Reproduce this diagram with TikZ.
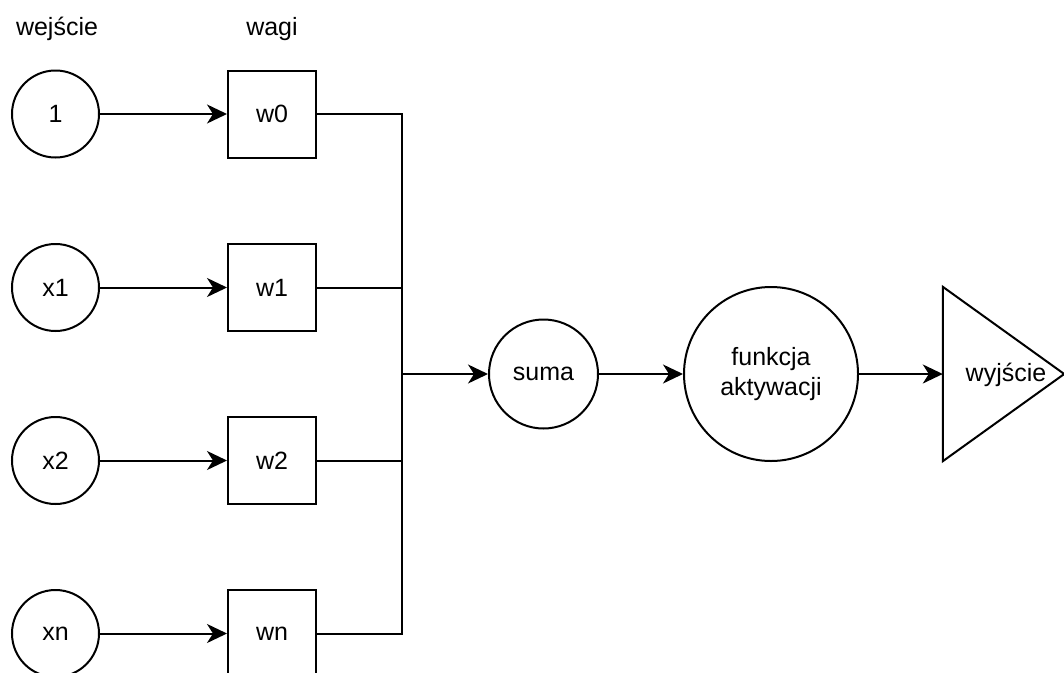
\documentclass[tikz,border=0pt]{standalone}
\usepackage{fontspec}
\setmainfont{Liberation Sans}
\usetikzlibrary{arrows.meta}

\tikzset{
  base/.style={draw=black, line width=2pt, inner sep=0pt, font=\fontsize{25}{30}\selectfont, text=black, align=center},
  inputnode/.style={base, circle, minimum size=87pt},
  weightbox/.style={base, rectangle, minimum width=88pt, minimum height=87pt},
  plain/.style={inner sep=0pt, font=\fontsize{25}{30}\selectfont, text=black, align=center},
  link/.style={line width=2pt, draw=black},
  arrowlink/.style={link, -{Stealth[length=20pt, width=19pt, inset=6pt]}}
}

\begin{document}
\begin{tikzpicture}[x=1pt, y=-1pt]
  \useasboundingbox (0,0) rectangle (1064,672);

  % column headings
  \node[plain] (hin) at (57,29) {wejście};
  \node[plain] (hw)  at (272,29) {wagi};

  % inputs
  \node[inputnode] (i0) at (55.5,114) {1};
  \node[inputnode] (i1) at (55.5,287.5) {x1};
  \node[inputnode] (i2) at (55.5,460.5) {x2};
  \node[inputnode] (in) at (55.5,633.5) {xn};

  % weights
  \node[weightbox] (w0) at (272,114) {w0};
  \node[weightbox] (w1) at (272,287.5) {w1};
  \node[weightbox] (w2) at (272,460.5) {w2};
  \node[weightbox] (wn) at (272,633.5) {wn};

  % summation and activation
  \node[base, circle, minimum size=109pt] (sum) at (543.5,374) {suma};
  \node[base, circle, minimum size=174pt] (act) at (771,374) {funkcja\\aktywacji};

  % output triangle: an invisible frame carries the text and the anchors
  \node[plain, minimum width=121pt, minimum height=174pt] (out) at (1003.5,374) {};
  \draw[link, line join=miter] (out.north west) -- (out.east) -- (out.south west) -- cycle;
  \node[plain] (outtext) at (1006,375) {wyjście};

  % junction on the bus
  \coordinate (bus) at (402,374);

  % input to weight
  \draw[arrowlink] (i0) -- (w0);
  \draw[arrowlink] (i1) -- (w1);
  \draw[arrowlink] (i2) -- (w2);
  \draw[arrowlink] (in) -- (wn);

  % weights into the bus
  \draw[link] (w0.east) -| (bus);
  \draw[link] (wn.east) -| (bus);
  \draw[link] (w1.east) -- (w1.east -| bus);
  \draw[link] (w2.east) -- (w2.east -| bus);

  % forward chain
  \draw[arrowlink] (bus) -- (sum);
  \draw[arrowlink] (sum) -- (act);
  \draw[arrowlink] (act) -- (out.west);
\end{tikzpicture}
\end{document}
